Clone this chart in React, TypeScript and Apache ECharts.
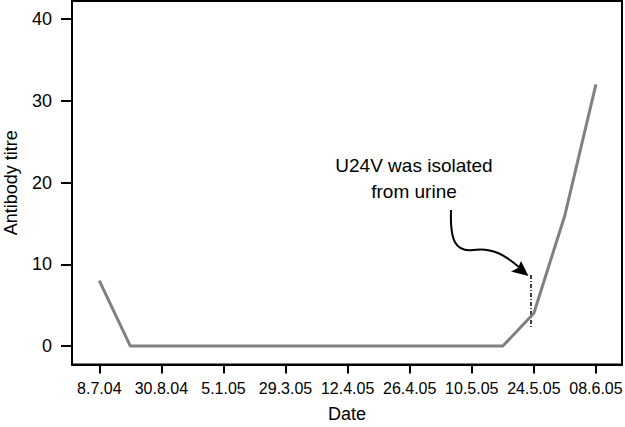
import React, { useEffect, useRef } from "react";
import * as echarts from "echarts";

const dateLabels = ["8.7.04", "30.8.04", "5.1.05", "29.3.05", "12.4.05", "26.4.05", "10.5.05", "24.5.05", "08.6.05"];
const samplePositions = [0, 0.5, 6.5, 7, 7.5, 8];
const titres = [8, 0, 0, 4, 16, 32];
const yTicks = [0, 10, 20, 30, 40];
const annotationLines = ["U24V was isolated", "from urine"];

const FONT = '"Liberation Sans", Arial, Helvetica, sans-serif';

export default function App() {
  const ref = useRef<HTMLDivElement>(null);
  useEffect(() => {
    if (!ref.current) return;
    const chart = echarts.init(ref.current, undefined, { renderer: "svg" });
    const data = samplePositions.map((x, i) => [x, titres[i]]);
    chart.setOption({
      animation: false,
      backgroundColor: "#ffffff",
      grid: {
        left: 72,
        right: 3,
        top: 1,
        bottom: 62.5,
        containLabel: false,
        outerBoundsMode: "none",
        show: true,
        borderColor: "#000",
        borderWidth: 2,
        backgroundColor: "transparent",
      },
      xAxis: {
        type: "value",
        min: -0.44,
        max: 8.42,
        name: "Date",
        nameLocation: "middle",
        nameGap: 40,
        nameTextStyle: { fontFamily: FONT, fontSize: 18, color: "#000" },
        axisLine: { show: true, onZero: false, lineStyle: { color: "#000", width: 2 } },
        axisTick: {
          show: true,
          length: 9,
          lineStyle: { color: "#000", width: 2 },
          customValues: dateLabels.map((_, i) => i),
        },
        axisLabel: {
          fontFamily: FONT,
          fontSize: 16,
          color: "#000",
          margin: 16,
          customValues: dateLabels.map((_, i) => i),
          formatter: (v: number) => dateLabels[Math.round(v)] ?? "",
        },
        splitLine: { show: false },
      },
      yAxis: {
        type: "value",
        min: -2.26,
        max: 42.2,
        name: "Antibody titre",
        nameLocation: "middle",
        nameGap: 52,
        nameTextStyle: { fontFamily: FONT, fontSize: 18, color: "#000" },
        axisLine: { show: true, onZero: false, lineStyle: { color: "#000", width: 2 } },
        axisTick: {
          show: true,
          length: 11,
          lineStyle: { color: "#000", width: 2 },
          customValues: yTicks,
        },
        axisLabel: {
          fontFamily: FONT,
          fontSize: 18,
          color: "#000",
          margin: 20,
          customValues: yTicks,
          formatter: (v: number) => String(Math.round(v)),
        },
        splitLine: { show: false },
      },
      series: [
        {
          type: "line",
          data,
          symbol: "none",
          lineStyle: { color: "#808080", width: 3 },
          z: 3,
        },
      ],
      graphic: [
        {
          type: "text",
          x: 414,
          y: 165,
          style: {
            text: annotationLines[0],
            fontFamily: FONT,
            fontSize: 19,
            fill: "#000",
            align: "center",
            verticalAlign: "middle",
          },
        },
        {
          type: "text",
          x: 414,
          y: 191,
          style: {
            text: annotationLines[1],
            fontFamily: FONT,
            fontSize: 19,
            fill: "#000",
            align: "center",
            verticalAlign: "middle",
          },
        },
        {
          type: "bezierCurve",
          shape: { x1: 451, y1: 210, cpx1: 450, cpy1: 240, cpx2: 455, cpy2: 252, x2: 473, y2: 250 },
          style: { stroke: "#000", lineWidth: 2, fill: "none" },
        },
        {
          type: "bezierCurve",
          shape: { x1: 473, y1: 250, cpx1: 492, cpy1: 247, cpx2: 505, cpy2: 255, x2: 520, y2: 268 },
          style: { stroke: "#000", lineWidth: 2, fill: "none" },
        },
        {
          type: "polygon",
          shape: { points: [[528.5, 276], [511, 271.5], [518, 268], [521, 261]] },
          style: { fill: "#000" },
        },
        {
          type: "line",
          shape: { x1: 531, y1: 275, x2: 531, y2: 328 },
          style: { stroke: "#000", lineWidth: 1.5, lineDash: [4, 2, 1, 2] },
        },
      ],
    });
    return () => chart.dispose();
  }, []);
  return (
    <div
      ref={ref}
      style={{ position: "fixed", left: 0, top: 0, width: 625, height: 427, background: "#fff" }}
    />
  );
}
